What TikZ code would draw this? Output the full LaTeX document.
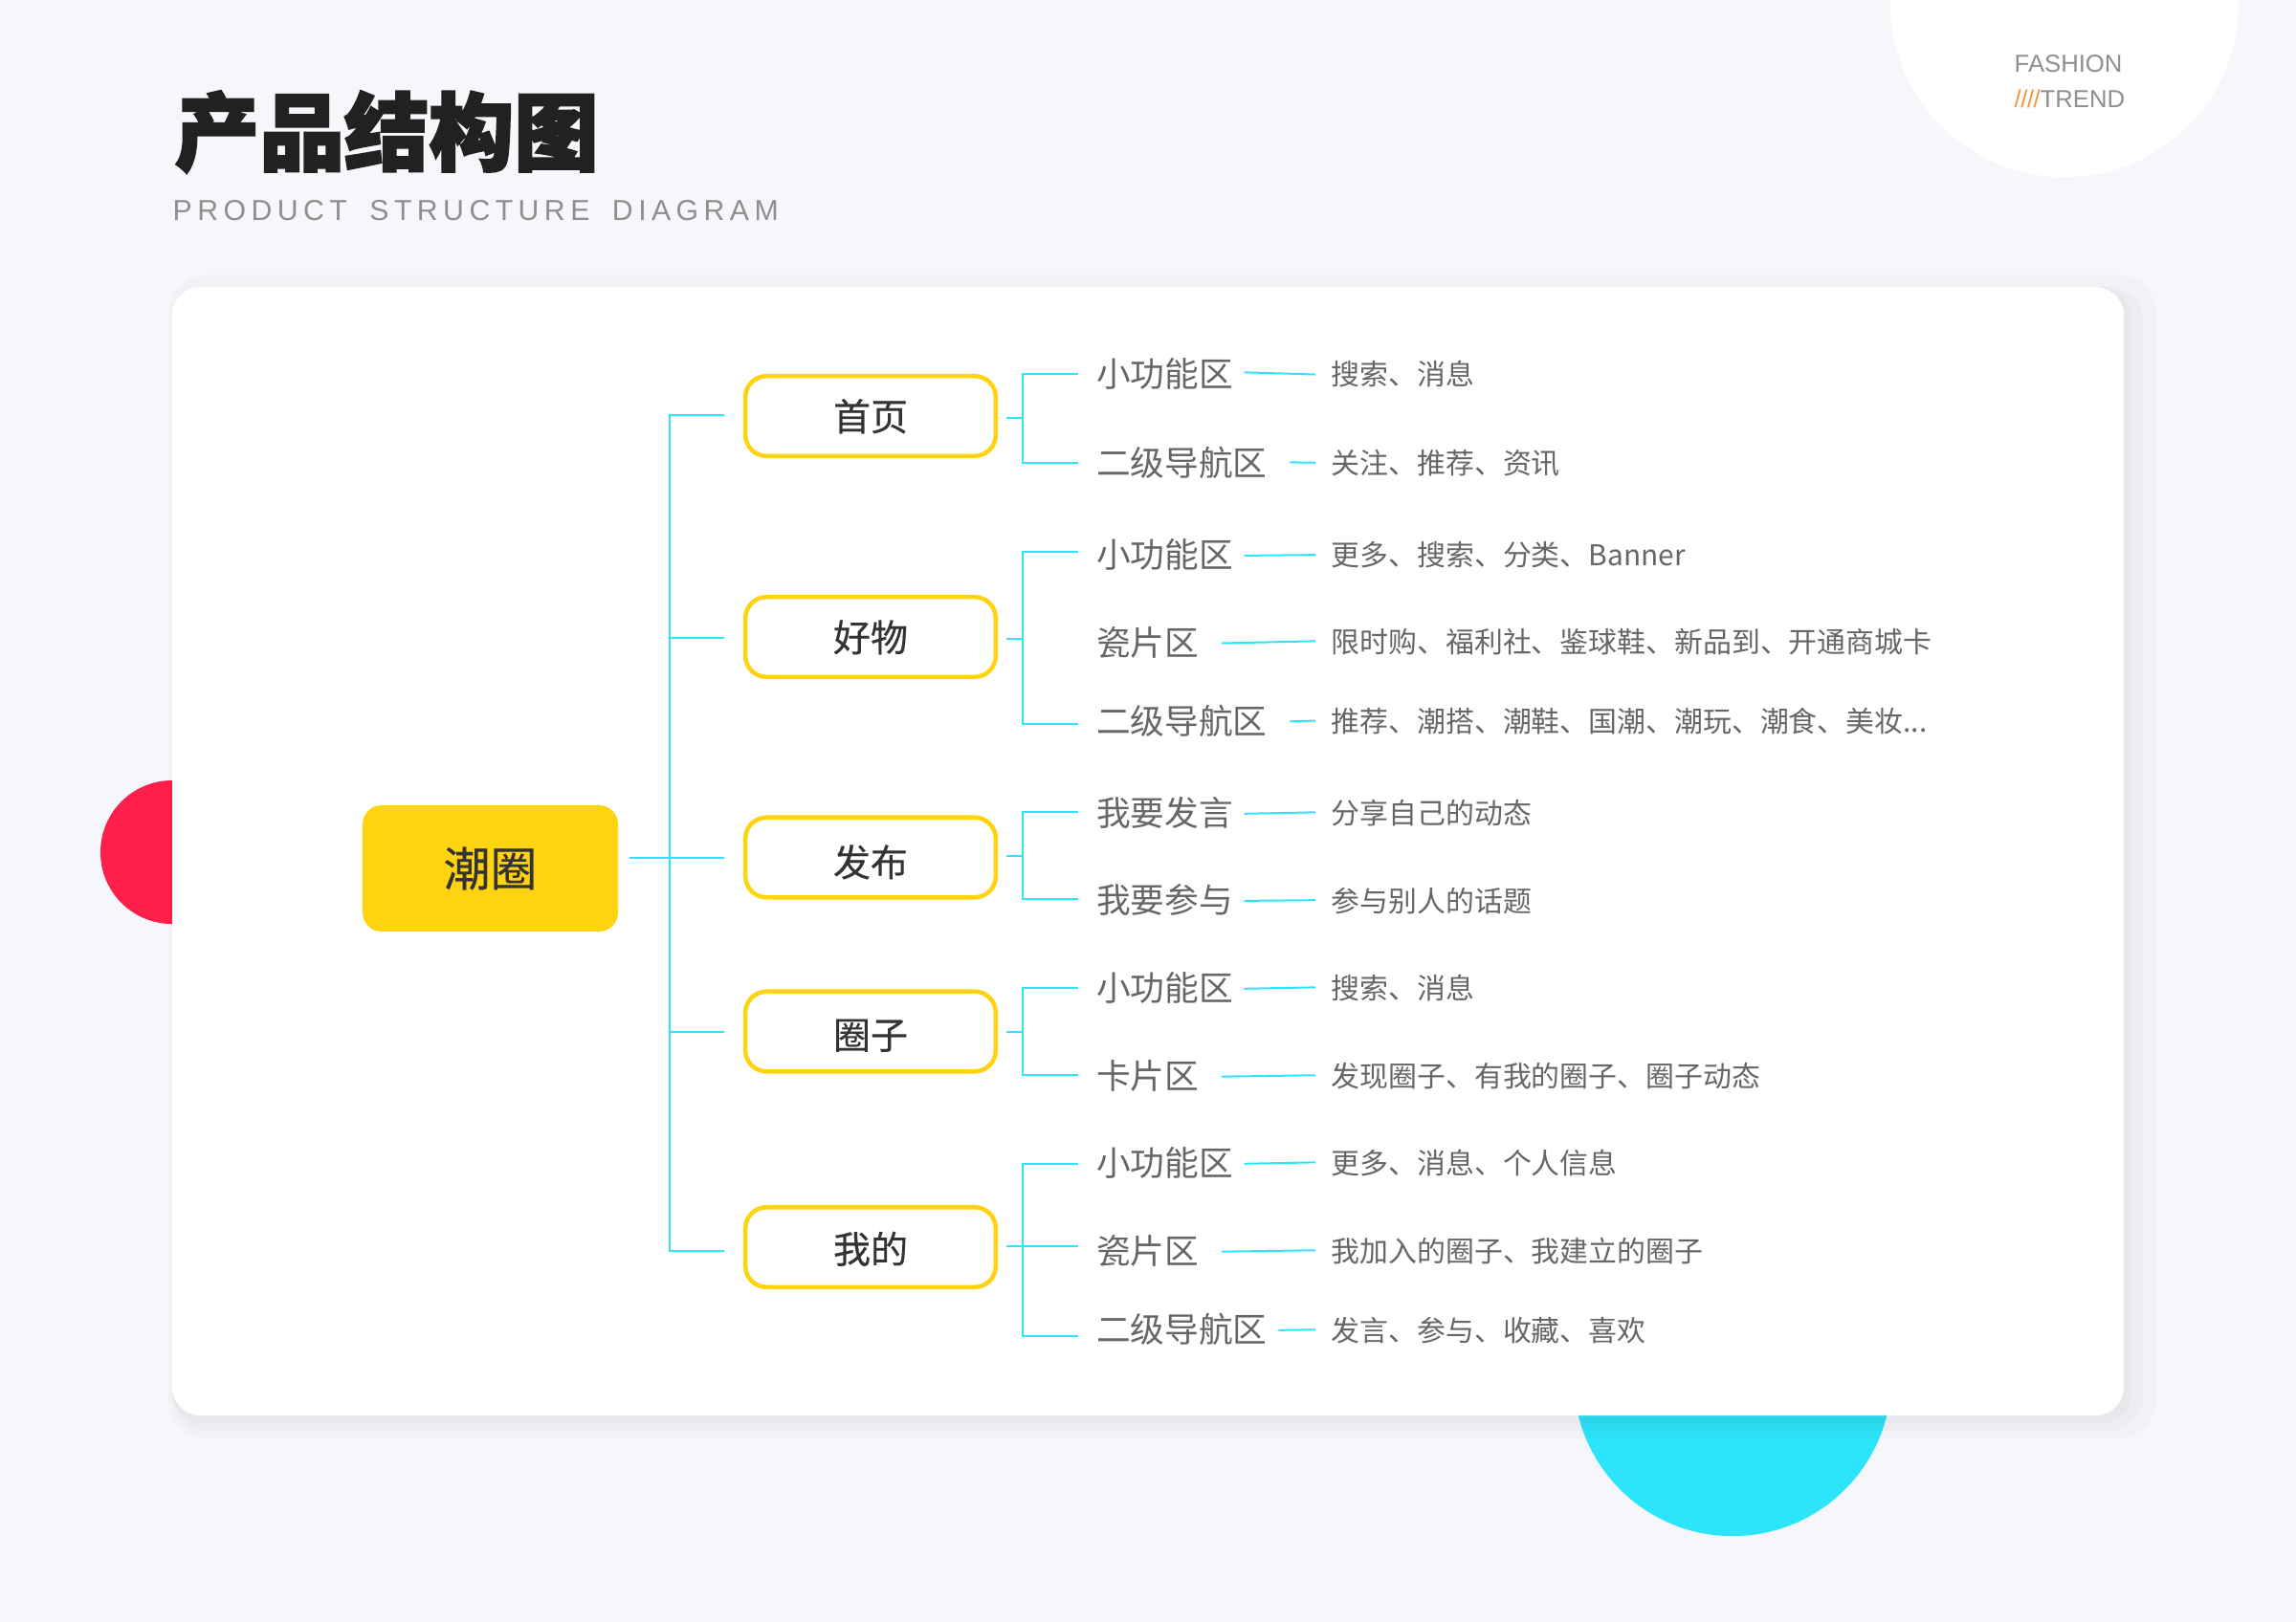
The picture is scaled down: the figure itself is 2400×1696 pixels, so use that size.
\documentclass[tikz,border=0pt]{standalone}
\usepackage{fontspec}
\setmainfont{Noto Sans CJK SC}
\newfontfamily\titlefont[FakeBold=2.5]{Noto Sans CJK SC Black}
\newfontfamily\mediumfont[FakeBold=0.4]{Noto Sans CJK SC}
\newfontfamily\latinfont{Liberation Sans}
\newfontfamily\spacedfont[LetterSpace=18,WordSpace=1.7]{Liberation Sans}
\newfontfamily\slashfont[LetterSpace=-2]{Liberation Sans}
\usetikzlibrary{positioning}
\definecolor{PageBg}{RGB}{245, 247, 251}
\definecolor{TrendCyan}{RGB}{45, 229, 250}
\definecolor{TrendYellow}{RGB}{255, 211, 15}
\definecolor{TrendRed}{RGB}{255, 31, 75}
\definecolor{TrendOrange}{RGB}{245, 150, 60}
\definecolor{InkDark}{RGB}{51, 51, 51}
\definecolor{InkGray}{RGB}{102, 102, 102}
\definecolor{InkSoft}{RGB}{143, 143, 143}
\tikzset{
  linkline/.style={draw=TrendCyan, line width=0.02cm},
  rootbox/.style={fill=TrendYellow, rounded corners=0.2cm, minimum width=2.67cm, minimum height=1.32cm, text=InkDark, font=\mediumfont\fontsize{13.9}{16}\selectfont},
  tabbox/.style={draw=TrendYellow, fill=white, line width=0.045cm, rounded corners=0.22cm, minimum width=2.615cm, minimum height=0.835cm, text=InkDark, text height=0.9em, text depth=0.04em, font=\mediumfont\fontsize{11.1}{13}\selectfont},
  arealabel/.style={anchor=west, inner sep=0pt, text=InkGray, text height=0.8em, text depth=0.1em, font=\fontsize{10.15}{12}\selectfont},
  itemlabel/.style={anchor=west, inner sep=0pt, text=InkGray, text height=0.8em, text depth=0.1em, font=\fontsize{8.5}{10}\selectfont},
}

\begin{document}
\begin{tikzpicture}[x=0.01cm, y=-0.01cm]
  \useasboundingbox (0,0) rectangle (2400,1696);
  \fill[PageBg] (0,0) rectangle (2400,1696);
  % decoration behind the card
  \fill[white] (2158,3) circle (1.82cm);
  \fill[TrendCyan] (1811,1440) circle (1.66cm);
  \fill[TrendRed] (180,816) arc[start angle=90, end angle=270, radius=0.75cm] -- cycle;
  \fill[black, opacity=0.018, rounded corners=0.42cm] (176,287) rectangle (2254,1504);
  \fill[black, opacity=0.02, rounded corners=0.36cm] (180,300) rectangle (2240,1496);
  \fill[black, opacity=0.02, rounded corners=0.32cm] (180,300) rectangle (2228,1488);
  \fill[white, rounded corners=0.3cm] (180,300) rectangle (2220,1480);

  % heading
  \node[anchor=west, inner sep=0pt, text=black!87, font=\titlefont\fontsize{25.2}{28}\selectfont] (title) at (182,138) {产品结构图};
  \node[anchor=west, inner sep=0pt, text=InkSoft, font=\spacedfont\fontsize{8.6}{10}\selectfont] (subtitle) at (180,220.5) {PRODUCT STRUCTURE DIAGRAM};
  \node[anchor=west, inner sep=0pt, text=InkSoft, font=\latinfont\fontsize{7.3}{9}\selectfont] (fashion) at (2105,67) {FASHION};
  \node[anchor=west, inner sep=0pt, text=InkSoft, font=\latinfont\fontsize{7.3}{9}\selectfont] (trend) at (2105,103) {{\slashfont\color{TrendOrange}////}TREND};

  % first and second level
  \node[rootbox] (root) at (512.5,908) {潮圈};
  \node[tabbox] (home) at (910,435) {首页};
  \node[tabbox] (goods) at (910,666) {好物};
  \node[tabbox] (post) at (910,896.5) {\raisebox{-1.3pt}{发布}};
  \node[tabbox] (circle) at (910,1078.5) {\raisebox{-0.9pt}{圈子}};
  \node[tabbox] (mine) at (910,1304) {\raisebox{-0.45pt}{我的}};

  % areas
  \node[arealabel] (homea) at (1145.5,392) {小功能区};
  \node[arealabel] (homeb) at (1145.5,485) {二级导航区};
  \node[arealabel] (goodsa) at (1145.5,581) {小功能区};
  \node[arealabel] (goodsb) at (1145.5,673) {瓷片区};
  \node[arealabel] (goodsc) at (1145.5,755) {二级导航区};
  \node[arealabel] (posta) at (1145.5,851) {我要发言};
  \node[arealabel] (postb) at (1145.5,942) {我要参与};
  \node[arealabel] (circlea) at (1145.5,1034) {小功能区};
  \node[arealabel] (circleb) at (1145.5,1126) {卡片区};
  \node[arealabel] (minea) at (1145.5,1217) {小功能区};
  \node[arealabel] (mineb) at (1145.5,1309) {瓷片区};
  \node[arealabel] (minec) at (1145.5,1391) {二级导航区};

  % items
  \node[itemlabel] (homeai) at (1391,390) {搜索、消息};
  \node[itemlabel] (homebi) at (1391,483) {关注、推荐、资讯};
  \node[itemlabel] (goodsai) at (1391,579) {更多、搜索、分类、Banner};
  \node[itemlabel] (goodsbi) at (1391,670) {限时购、福利社、鉴球鞋、新品到、开通商城卡};
  \node[itemlabel] (goodsci) at (1391,753) {推荐、潮搭、潮鞋、国潮、潮玩、潮食、美妆...};
  \node[itemlabel] (postai) at (1391,849) {分享自己的动态};
  \node[itemlabel] (postbi) at (1391,941) {参与别人的话题};
  \node[itemlabel] (circleai) at (1391,1032) {搜索、消息};
  \node[itemlabel] (circlebi) at (1391,1124) {发现圈子、有我的圈子、圈子动态};
  \node[itemlabel] (mineai) at (1391,1215) {更多、消息、个人信息};
  \node[itemlabel] (minebi) at (1391,1307) {我加入的圈子、我建立的圈子};
  \node[itemlabel] (mineci) at (1391,1390) {发言、参与、收藏、喜欢};

  % trunk from the root
  \coordinate (rootout) at (658,897);
  \coordinate (hub) at (700,897);
  \draw[linkline] (rootout) -- ([shift={(-20,0.5)}]post.west);
  \draw[linkline] ([shift={(-20,-1.5)}]home.west) -| (hub) |- ([shift={(-20,4)}]mine.west);
  \draw[linkline] ([shift={(-20,1)}]goods.west) -- ++(-57,0);
  \draw[linkline] ([shift={(-20,0.5)}]circle.west) -- ++(-57,0);

  % branches from the tabs
  \coordinate (homejoin) at (1069,437);
  \coordinate (goodsjoin) at (1069,668);
  \coordinate (postjoin) at (1069,895);
  \coordinate (circlejoin) at (1069,1079);
  \coordinate (minejoin) at (1069,1303);
  \draw[linkline] ([shift={(9,2)}]home.east) -- (homejoin);
  \draw[linkline] ([shift={(9,2)}]goods.east) -- (goodsjoin);
  \draw[linkline] ([shift={(9,-1.5)}]post.east) -- (postjoin);
  \draw[linkline] ([shift={(9,0.5)}]circle.east) -- (circlejoin);
  \draw[linkline] ([shift={(9,-1)}]mine.east) -- (minejoin);
  \draw[linkline] ([shift={(-18.5,-1)}]homea.west) -| (homejoin) |- ([shift={(-18.5,-1)}]homeb.west);
  \draw[linkline] ([shift={(-18.5,-4)}]goodsa.west) -| (goodsjoin) |- ([shift={(-18.5,2)}]goodsc.west);
  \draw[linkline] ([shift={(-18.5,-2)}]posta.west) -| (postjoin) |- ([shift={(-18.5,-2)}]postb.west);
  \draw[linkline] ([shift={(-18.5,-1)}]circlea.west) -| (circlejoin) |- ([shift={(-18.5,-2)}]circleb.west);
  \draw[linkline] ([shift={(-18.5,0)}]minea.west) -| (minejoin) |- ([shift={(-18.5,6)}]minec.west);
  \draw[linkline] ([shift={(-18.5,-6)}]mineb.west) -- (minejoin);

  % links from areas to items
  \draw[linkline, shorten <=0.11cm, shorten >=0.16cm] ([yshift=0.03cm]homea.east) -- ([yshift=-0.02cm]homeai.west);
  \draw[linkline, shorten <=0.23cm, shorten >=0.16cm] ([yshift=0.02cm]homeb.east) -- ([yshift=-0.01cm]homebi.west);
  \draw[linkline, shorten <=0.11cm, shorten >=0.16cm] (goodsa.east) -- ([yshift=-0.01cm]goodsai.west);
  \draw[linkline, shorten <=0.23cm, shorten >=0.16cm] (goodsb.east) -- (goodsbi.west);
  \draw[linkline, shorten <=0.23cm, shorten >=0.16cm] (goodsc.east) -- (goodsci.west);
  \draw[linkline, shorten <=0.11cm, shorten >=0.16cm] (posta.east) -- (postai.west);
  \draw[linkline, shorten <=0.11cm, shorten >=0.16cm] (postb.east) -- (postbi.west);
  \draw[linkline, shorten <=0.11cm, shorten >=0.16cm] (circlea.east) -- (circleai.west);
  \draw[linkline, shorten <=0.23cm, shorten >=0.16cm] (circleb.east) -- (circlebi.west);
  \draw[linkline, shorten <=0.11cm, shorten >=0.16cm] (minea.east) -- (mineai.west);
  \draw[linkline, shorten <=0.23cm, shorten >=0.16cm] (mineb.east) -- (minebi.west);
  \draw[linkline, shorten <=0.11cm, shorten >=0.16cm] (minec.east) -- (mineci.west);
\end{tikzpicture}
\end{document}
